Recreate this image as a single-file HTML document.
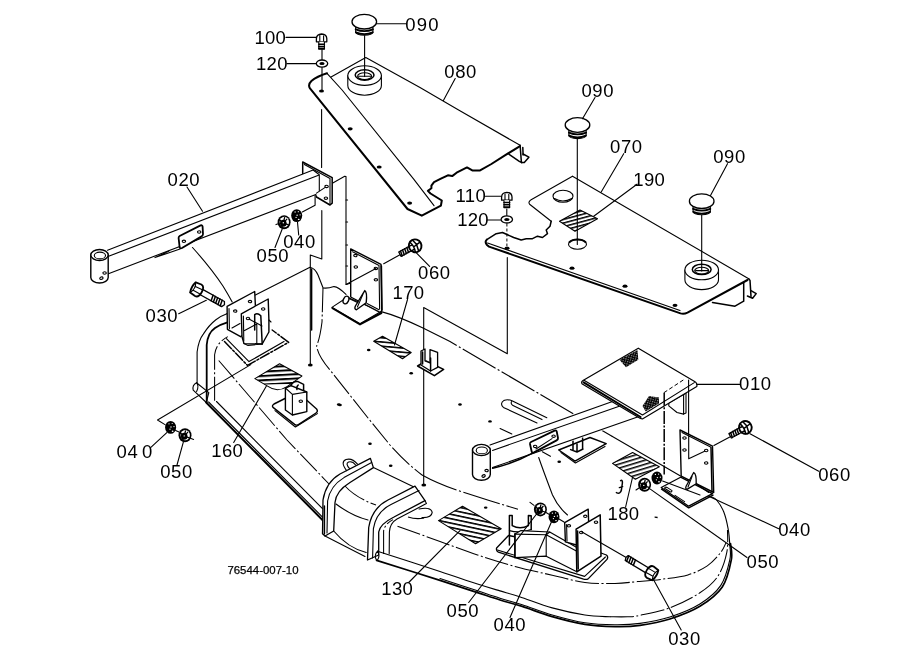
<!DOCTYPE html>
<html><head><meta charset="utf-8"><title>Mower deck parts diagram 76544-007-10</title>
<style>
html,body{margin:0;padding:0;background:#fff;}
body{width:919px;height:668px;overflow:hidden;font-family:"Liberation Sans",sans-serif;}
svg{display:block;position:absolute;left:0;top:0;}
.l{fill:none;stroke:#000;stroke-width:1.1;stroke-linecap:round;stroke-linejoin:round;}
.t{fill:none;stroke:#000;stroke-width:2;stroke-linecap:round;stroke-linejoin:round;}
.m{fill:none;stroke:#000;stroke-width:1.5;stroke-linecap:round;stroke-linejoin:round;}
.w{fill:#fff;stroke:#000;stroke-width:1.1;stroke-linejoin:round;}
.wt{fill:#fff;stroke:#000;stroke-width:1.8;stroke-linejoin:round;}
.k{fill:#000;stroke:none;}
.d{fill:none;stroke:#000;stroke-width:1.05;stroke-dasharray:24 2.5 2 2.5;}
.d2{fill:none;stroke:#000;stroke-width:1.1;stroke-dasharray:38 2.5 2 2.5;}
.ds{fill:none;stroke:#000;stroke-width:1;stroke-dasharray:3 2;}
.hx{fill:url(#h);stroke:#000;stroke-width:1;stroke-linejoin:round;}
text{font-family:"Liberation Sans",sans-serif;font-size:18.5px;fill:#000;letter-spacing:0.6px;}
text.o{letter-spacing:0.3px;}
text.s{font-size:11.8px;letter-spacing:0;stroke:#000;stroke-width:0.25px;}
</style></head>
<body>
<svg width="919" height="668" viewBox="0 0 919 668">
<defs>
<pattern id="h" width="6" height="4.2" patternUnits="userSpaceOnUse" patternTransform="rotate(5)"><rect width="6" height="1.6" fill="#000"/></pattern>
<pattern id="h2" width="6" height="4.3" patternUnits="userSpaceOnUse" patternTransform="rotate(-3) translate(0 1.2)"><rect width="6" height="2" fill="#000"/></pattern>
<pattern id="h130" width="6" height="4.3" patternUnits="userSpaceOnUse" patternTransform="rotate(12)"><rect width="6" height="1.6" fill="#000"/></pattern>
<pattern id="h180" width="6" height="3.9" patternUnits="userSpaceOnUse" patternTransform="rotate(-17)"><rect width="6" height="1.5" fill="#000"/></pattern>
<pattern id="h190" width="6" height="3.5" patternUnits="userSpaceOnUse" patternTransform="rotate(-15)"><rect width="6" height="1.5" fill="#000"/></pattern>
<pattern id="x" width="2.3" height="2.3" patternUnits="userSpaceOnUse" patternTransform="rotate(15)"><rect width="2.3" height="2.3" fill="#000"/><rect x="0.2" y="0.2" width="0.9" height="0.9" fill="#fff"/></pattern>
<g id="cap">
<path class="w" d="M-8.6 5 L-8.6 10.5 Q-8 13.4 0 13.6 Q8 13.4 8.6 10.5 L8.6 5 Z"/>
<path class="t" d="M-8.6 7.6 Q0 11.2 8.6 7.6 M-8.4 10.6 Q0 14.2 8.4 10.6" style="stroke-width:1.9"/>
<ellipse class="w" cx="0" cy="0" rx="12.3" ry="7.3" style="stroke-width:1.3"/>
</g>
<g id="ring">
<path class="w" d="M-16.8 0 L-16.8 9.8 A16.8 9.8 0 0 0 16.8 9.8 L16.8 0 Z"/>
<ellipse class="w" cx="0" cy="0" rx="16.8" ry="9.8"/>
<ellipse class="w" cx="0" cy="-0.6" rx="9.4" ry="5.2" style="stroke-width:1.5"/>
<ellipse class="l" cx="0" cy="0.6" rx="7" ry="3.4"/>
<path class="l" d="M-6 0.6 H6"/>
</g>
<g id="washer">
<ellipse class="w" cx="0" cy="0" rx="5.7" ry="3.6" style="stroke-width:1.3"/>
<ellipse class="k" cx="0" cy="0" rx="2.6" ry="1.5"/>
</g>
<g id="sbolt">
<path class="w" d="M-5.2 -3.2 Q-5 -7.6 0 -7.8 Q5 -7.6 5.2 -3.2 L5.2 0 L-5.2 0 Z" style="stroke-width:1.3"/>
<path class="l" d="M-1.8 0 V-6.4 M2 0 V-6"/>
<path class="w" d="M-2.8 0 V7.4 H2.8 V0" />
<path class="m" d="M-2.8 2.4 H2.8 M-2.8 4.6 H2.8 M-2.8 6.8 H2.8"/>
</g>
<g id="nut">
<ellipse cx="0" cy="0" rx="5.5" ry="6.4" fill="#000"/>
<circle cx="-1.6" cy="-3.6" r="0.65" fill="#fff"/><circle cx="1.6" cy="-3.9" r="0.6" fill="#fff"/><circle cx="3.4" cy="-0.8" r="0.65" fill="#fff"/>
<circle cx="0.4" cy="-0.4" r="0.7" fill="#fff"/><circle cx="-0.6" cy="1.8" r="0.65" fill="#fff"/><ellipse cx="2" cy="3.8" rx="0.9" ry="0.7" fill="#fff"/>
</g>
<g id="nut2">
<ellipse cx="0" cy="0" rx="6.5" ry="7" fill="#000"/>
<ellipse cx="0.2" cy="-0.2" rx="4.7" ry="5.2" fill="#fff"/>
<ellipse cx="-0.8" cy="1" rx="3.3" ry="3.5" fill="#000"/>
<path d="M-0.8 1 L-4.6 -2.4 M-0.8 1 L0.6 -5 M-0.8 1 L4.6 2.6 M-0.8 1 L-2.4 5.2 M-0.8 1 L3 -3.4" stroke="#000" stroke-width="1.3" fill="none"/>
<circle cx="-0.8" cy="0.6" r="0.7" fill="#fff"/>
</g>
<ellipse id="hole" class="k" cx="0" cy="0" rx="2.5" ry="1.6"/>
<ellipse id="sh" cx="0" cy="0" rx="1.7" ry="1.2" fill="#fff" stroke="#000" stroke-width="1.1"/><ellipse id="dh" cx="0" cy="0" rx="1.8" ry="1.2" fill="#000"/>
</defs>
<!-- plate 080 -->
<g id="p080">
<path class="l" d="M365.8 57.6 L420 87.5 L458.6 110 L520.1 145.3 M365.8 57.6 L330.6 77.2 M327 73.3 L342.1 90 L413.5 178.9 L434 205.7"/>
<path class="t" d="M327 73.3 Q317 76.4 311.4 81 Q307.6 84.6 310 88.4 L407.5 209 L421.8 215.7 L440.9 205.7 L441.8 200.5 L430.5 193.5 L427.9 190.9 L431.4 188.3 L431.4 185.7 L434 182.2 L440.9 178.7 L447.9 175.3 L452.2 176.1 L456.6 172.7 L467 167.4 L472.3 170.4 L480.1 170.4 L491.4 164 L505.3 155.2 L519.6 146.3"/>
<path class="m" d="M520.1 145.3 L521.4 162.4 M522.8 147.4 L523.1 155 M508 153.5 L519.3 161.3 L521.8 162.6"/>
<path class="m" d="M523 154 L528.9 157.2 L524.3 162.4 L521.6 162.6"/>
<use href="#hole" x="321.5" y="91"/><use href="#hole" x="350.2" y="128.8"/><use href="#hole" x="379.2" y="167"/><use href="#hole" x="409.6" y="203.1"/>
<use href="#ring" x="364.6" y="75.6"/>
<path class="l" d="M364.6 35 V76.5"/>
<use href="#cap" x="364.3" y="21.7"/>
<path class="l" d="M376.7 23.7 H406"/>
<!-- bolt 100 / washer 120 -->
<path class="l" d="M322 49 V90 M321.6 109.5 V167.5 M286 37.4 H316.4 M287 63.6 H316.2"/>
<use href="#washer" x="322" y="63.6"/>
<use href="#sbolt" x="321.6" y="41.8"/>
<path class="l" d="M455.2 78.6 L443.4 100.4"/>
</g>
<!-- plate 070 -->
<g id="p070">
<path class="l" d="M572.5 176.2 L748.7 278.7 M572.5 176.2 L532 199.2 Q527.6 201.6 529.6 204.2 L551.2 221.2"/>
<path class="m" d="M551.2 221.2 L550 226.2 L546.2 230 L547.5 233.7 L542.5 237.5 L537.5 236.2 L532.5 238.7 L526.2 238.7 L521.2 240 L513.7 237.5 L502.5 232.5 L496.2 233.7 L486.8 239.6"/>
<path class="t" d="M486.8 239.6 Q484.4 242 487 245 L489 246.6 L680.5 313.4 Q684 314.4 687.5 312.6 L747.5 280"/>
<path class="l" d="M487.6 243 L680 310.6"/>
<path class="m" d="M748.7 278.7 L750 280.4 L751 296.4 M743.7 282.5 V301.2 L735 306.2 L712.5 302.5"/>
<path class="m" d="M751 290.6 L756.2 293.6 L752.6 298.2 L747.4 296"/>
<use href="#hole" x="507" y="248.2"/><use href="#hole" x="572" y="268.2"/><use href="#hole" x="625" y="286.2"/><use href="#hole" x="675" y="305.3"/>
<ellipse class="l" cx="563" cy="196.2" rx="10" ry="6"/>
<path class="l" d="M554.4 198.6 Q563 203.4 571.8 198.4"/>
<path class="l" style="fill:url(#h190)" d="M580 210 L597.5 218.7 L575 231.2 L559.5 221.2 Z"/>
<ellipse class="w" cx="577.5" cy="244.3" rx="9" ry="5"/><path class="t" d="M569.6 242 A9 5 0 0 1 585.4 242"/>
<path class="l" d="M577.3 139 V244.5"/>
<use href="#cap" x="577.5" y="125"/>
<use href="#ring" x="701.7" y="270"/>
<path class="l" d="M701.7 215 V271"/>
<use href="#cap" x="701.7" y="201.2"/>
<!-- bolt 110 / washer 120 -->
<path class="l" d="M506.8 209 V216 M485.5 196.2 H501 M487 220 H500.5"/>
<path class="ds" d="M506.9 223.5 V246"/>
<use href="#washer" x="506.8" y="219.4"/>
<use href="#sbolt" x="506.8" y="200.2"/>
<!-- leaders -->
<path class="l" d="M595 97.5 L582.5 118.7 M623.7 153.7 L601.2 192 M637 184.2 L593.7 216.2 M727.5 163.7 L710.5 195.5"/>
<!-- guide lines -->
<path class="l" d="M507.3 257.5 V353.7 L423.7 307.5 V485"/>
<ellipse class="k" cx="423.8" cy="485" rx="2.4" ry="1.6"/>
</g>
<!-- arm 020 -->
<g id="a020">
<path class="l" d="M107.5 250.3 L313.1 170 L319.3 174.8 V190.4 M108.6 256.3 L318.5 175.3 M108.4 273.8 L315.8 194.4 L316.5 197"/>
<path class="w" d="M90.8 255 V277.5 A8.7 5.5 0 0 0 108.2 277.5 V255 Z" style="stroke-width:1.4"/>
<ellipse class="w" cx="99.5" cy="255" rx="8.7" ry="5.5" style="stroke-width:1.4"/>
<ellipse class="l" cx="99.9" cy="255.5" rx="5.6" ry="3.4"/>
<use href="#sh" x="104.6" y="273"/><use href="#sh" x="101.4" y="278.2" transform="rotate(-20 101.4 278.2)"/>
<!-- side bracket -->
<path class="wt" d="M179.6 236 L200.6 225.4 Q202.4 224.8 202.6 226.6 L203 234 Q203 235.6 201.6 236.4 L182 248 Q180 249 179.6 247 L178.6 238 Q178.6 236.6 179.6 236 Z"/>
<use href="#sh" x="183.9" y="241.3"/><use href="#sh" x="199.2" y="232"/>
<path class="l" d="M180 249 L155 257.6 L169 251"/>
<path class="l" d="M192.5 247.5 Q211 268 223.1 286.2 Q228.5 295 232.2 302"/>
<!-- end plate -->
<path class="m" d="M302.7 173.4 V162 L332.2 177.6 V203.2 L330 205 L316.5 197"/>
<path class="l" d="M304.4 164.6 L330 178.6 V204.6"/>
<use href="#sh" x="326.6" y="186.4"/><use href="#sh" x="325.9" y="198.2"/>
<path class="l" d="M302.3 212 L315.1 205.2 V195.3 M316.5 193.1 L325.2 187.4"/>
<!-- nuts -->
<use href="#nut" x="296.7" y="215.6"/>
<use href="#nut2" x="284.1" y="222.2"/>
<path class="l" d="M276 224.6 L279 223.4 M298.7 235 L297.5 222.2 M275 247.5 L282.2 229 M187 187 L202.5 211.2"/>
<!-- deck wall broken strip -->
<path class="l" d="M321.8 210.6 V259 L310.3 255 V365 M332.8 183 L344.7 176.3 L346 176.6 V284.5 L350.4 283.3"/>
<path class="l" d="M346 200 h1.6 M346 222 h1.6 M346 245 h1.6 M346 266 h1.6"/>
<path class="m" d="M311.6 269 V330"/>
<ellipse class="k" cx="310.3" cy="365" rx="2.4" ry="1.5"/>
</g>
<!-- bracket + bolt 060 left -->
<g id="b060l">
<path class="w" d="M331.9 307.4 L347.3 297.3 L381 311.6 L360 323.7 Z"/>
<path class="t" d="M332.5 308.2 L360 324.4 L381.4 313"/>
<path class="w" d="M350.7 248.9 L381 264.3 L381.7 310.8 L380 312.4 L350.7 297 Z" style="stroke-width:1.4"/>
<path class="l" d="M352.6 251.8 L379 265.4 L379.6 309"/>
<path class="m" d="M381.4 266 L382 310"/>
<use href="#sh" x="355.4" y="255.6"/><use href="#sh" x="355.8" y="267"/><use href="#sh" x="375.9" y="268.4"/><use href="#sh" x="375.9" y="279.8"/>
<path class="l" d="M375.9 268.4 L350.7 281.9 L346.2 284.5 M383.7 263.7 L400.4 254.6"/>
<path class="w" d="M364.8 290.6 Q367.4 292 366.2 302.7 L356.4 309.8 Q354 309 355.4 306 Z" style="stroke-width:1.4"/>
<path class="l" d="M362.8 294.6 L357.4 307"/>
<ellipse class="w" cx="346" cy="300" rx="2.6" ry="4" transform="rotate(25 346 300)" style="stroke-width:1.4"/>
<path class="l" d="M349 298.6 L358 302.8 M367 303.6 L379 309.8"/>
<!-- bolt -->
<g transform="translate(414.8 246) rotate(-29)">
<path class="w" d="M-17 -2.5 H-5 V2.5 H-17 Z" style="stroke-width:1.3"/>
<path class="m" d="M-15 -2.5 L-15.8 2.5 M-12.6 -2.5 L-13.4 2.5 M-10.2 -2.5 L-11 2.5 M-7.8 -2.5 L-8.6 2.5"/>
<ellipse class="wt" cx="0.4" cy="0" rx="6.3" ry="6.5" style="stroke-width:1.9"/>
<path class="m" d="M-2.4 -5.6 Q-0.4 0 -2.4 5.6 M-5.4 -2.6 L-1.6 -2.2 M-5.4 2.8 L-1.6 2.4 M-1.2 0.2 L6 -0.8 M1 -5.8 L2.4 -0.4 M2.2 0 L1 5.8"/>
</g>
<path class="l" d="M415.9 252.4 L429.6 266.4 M407.5 299.5 L394.5 345"/>
</g>
<!-- deck: left end, rear edge, front-left skirt -->
<g id="deckL">
<!-- rear top edge left part and curve into shelf -->
<path class="l" d="M227 313.8 L255.4 294.9 L310 267.3 Q315 268.4 318 275 L323.1 288 Q328 288.6 333.9 286.6 Q338 286.4 346 294.4"/>
<path class="d" d="M323 288 Q322.4 310 322 322 Q320 338 316.6 346 Q318 356 330 370 L349 394 L368 418 L390 445 Q405 462 422 475"/>
<path class="d2" d="M422 475 Q440 485 465 492.8 L490 500.7 L518 509.3"/>
<!-- left end rolled edge -->
<path class="l" d="M197.1 384.4 V352 Q198.6 340 203.3 334.1 Q209 325 215.9 319.7 Q221 316 227.4 313.6"/>
<path class="d" d="M214.6 400.8 V354.7 Q216 343 227.8 336.6"/>
<path class="w" d="M196.5 382.7 L208.8 392.6 L206.3 402.5 L193.2 390.1 Q192 385 196.5 382.7 Z"/>
<path class="l" d="M196.5 382.7 Q199.4 386 196.6 391.4"/>
<path class="t" d="M206.7 402.3 V345 Q207.6 333 215 328 Q220 324.6 227.4 322.4" style="stroke-width:1.8"/>
<!-- front-left skirt -->
<path class="t" d="M206.2 402.5 L323.7 521.2"/>
<path class="l" d="M208.6 402 L324 518.6 M216.5 401.5 L322.5 508.7"/>
<path class="d" d="M218.7 360.5 L287 440 L330 485"/>
<!-- leader to lower-left nuts -->
<path class="l" d="M250.8 364.6 L157.5 420 L165 424.6"/>
<use href="#nut" x="170.6" y="427.4"/>
<use href="#nut2" x="185" y="435.3"/>
<path class="l" d="M175.6 430.4 L179 432 M190.4 438.2 L193.6 439.4 M150.6 447.6 L166.8 432.6 M177 465 L183.4 441.8"/>
<!-- hatch 160 -->
<path d="M279.6 363.8 L301.9 376.1 L291 384 L265 384.6 L254.9 378.6 Z" fill="url(#h2)"/>
<path class="l" d="M279.6 363.8 L301.9 376.1 L287 386.6 Q277.2 393 268 386.4 L254.9 378.6 Z"/>
<path class="l" d="M266.4 386 L233.7 442.5"/>
<!-- small bracket near 160 -->
<path class="w" d="M273 407.4 Q271.6 405.6 274 404 L286 398 L306 399.6 L316.6 409 Q318.4 411.4 316 413 L298.4 424.6 Q296.6 425.8 294.6 424.4 Z" style="stroke-width:1.4"/>
<path class="l" d="M275 410.6 L295.4 427 L317.4 413.6"/>
<path class="w" d="M285.4 388 L291 385.6 L306.8 392 V411.6 L292.4 415 L285.4 410 Z" style="stroke-width:1.4"/>
<path class="l" d="M292.4 415 V394.4 L285.4 388 M292.4 394.4 L306.8 392"/>
<path class="m" d="M291 385.6 Q293 380.6 298 381.6 L303.6 384.4 V390.6 M298.2 385 Q296 387 297 389.6"/>
<use href="#sh" x="300.8" y="401.2"/>
<!-- misc small holes -->
<use href="#dh" x="338.7" y="404.5"/><use href="#dh" x="368.7" y="350"/><use href="#dh" x="411.2" y="373.2"/><use href="#dh" x="340" y="405"/><use href="#dh" x="460" y="404.5"/><use href="#dh" x="490" y="421.4"/>
<use href="#dh" x="370" y="443.7"/><use href="#dh" x="390.7" y="465.7"/><use href="#dh" x="485.7" y="507.6"/>
</g>
<!-- double bracket + bolt 030 left -->
<g id="b030l">
<!-- base plate outline -->
<path class="m" d="M224.5 341.5 L247.5 365.4 L288.7 342.3 L272.2 330" style="stroke-dasharray:10 2 2 2"/>
<path class="l" d="M226.4 338.6 L249 361.6 L284 341.6"/>
<!-- back plate -->
<path class="w" d="M227.1 306.4 L254.7 291.5 L255.4 305.7 L255.4 326 L240.6 336.7 L227.4 329.3 Z" style="stroke-width:1.4"/>
<path class="l" d="M229 308.6 L229.4 328.6"/>
<use href="#sh" x="235.2" y="311.1"/><use href="#sh" x="250" y="301.6"/>
<path class="l" d="M232 328 L240 323.6"/>
<!-- front plate + box -->
<path class="w" d="M241.3 313.8 L268.2 299 L268.9 319.8 L268.9 332 L262.2 344 L244 343.6 L242 336.7 Z" style="stroke-width:1.4"/>
<path class="l" d="M243.4 316 L243.8 341 M244.6 330.6 L256.8 323.9 M256.8 323.9 V343.6 M244 343.6 L248 345.4 L262.2 344"/>
<use href="#sh" x="248" y="318.5"/><use href="#sh" x="263.2" y="309"/>
<path class="m" d="M254.7 330 V314.6 Q257.6 312.6 260.8 315.8 L262.2 344"/>
<path class="l" d="M249 319 L262 326 M268.9 320 L271 322"/>
<!-- bolt 030 -->
<g transform="translate(196.8 289.5) rotate(29)">
<path class="w" d="M4 -2.9 H30 L31.6 0 L30 2.9 H4 Z" style="stroke-width:1.3"/>
<path class="m" d="M17 -2.9 L18 2.9 M19.6 -2.9 L20.6 2.9 M22.2 -2.9 L23.2 2.9 M24.8 -2.9 L25.8 2.9 M27.4 -2.9 L28.4 2.9"/>
<path class="wt" d="M-4.4 -5.8 Q-6.4 0 -4.4 5.8 L1.6 6.6 Q5.6 6.4 5.6 0 Q5.6 -6.4 1.6 -6.6 Z"/>
<path class="l" d="M-4.4 -5.8 Q-1 0 -4.4 5.8 M-2.8 -2 L5 -2.4 M-2.8 2.4 L5 2.4"/>
</g>
<path class="l" d="M178.7 313.7 L206.3 300.2"/>
</g>
<!-- deck mid: rear edge, hatch 170, small bracket, slot -->
<g id="deckM">
<path class="l" d="M381.2 311.6 Q398 316 423 328"/>
<path class="d2" d="M423 328 L450 341.6 L612 436.3"/>
<path d="M373.7 341.2 L382.5 336.2 L411.2 352.5 L402.5 358.7 Z" fill="url(#h)"/>
<path class="l" d="M373.7 341.2 L382.5 336.2 L411.2 352.5 L402.5 358.7 Z"/>
<!-- small bracket near 170 -->
<path class="w" d="M417.6 366 L426 361 L443.6 369.4 L434.4 375.6 Z" style="stroke-width:1.6"/>
<path class="w" d="M421 365 V351 L425 349 V361 L430 363 V349.6 L437.6 352.4 V367.4 L430.6 371 Z" style="stroke-width:1.3"/>
<path class="m" d="M422.6 352 V364 M430.6 371 V358"/>
<use href="#dh" x="559.2" y="461.8"/>
<!-- slot -->
<path class="l" d="M504 400.4 Q499.4 403.6 503.4 407.4 L537 423 M504 400.4 Q508 399 512 400.8 L546.8 417.7 M512 400.8 Q510 403.4 513 405.6 L542 419.6 M500.1 428.5 L511.8 433.9 M542.3 451.8 L550.4 456.3"/>
</g>
<!-- chute arches + bottom skirt -->
<g id="chute">
<!-- deck left skirt lower lines into left arch -->
<!-- left arch -->
<path class="w" d="M322.5 533.7 L323 500 Q326 482 340 474 L370.4 458.4 L373.4 467.6 L350 482.5 Q336 491 335 502.5 L333.7 531 L325 536 Z" style="stroke-width:1.3"/>
<path class="m" d="M324.4 506 V534"/>
<path class="l" d="M327 533 L327.6 501 Q330 486 344 477.6 L371.6 462.6"/>
<!-- loop on left arch -->
<path class="l" d="M346.6 470.6 Q340 462 346 459.6 Q352 457.6 357.5 464.2 M349.6 468.6 Q345 463.6 348.6 462 Q352.6 461 355.6 465"/>
<!-- chute top surface -->
<path class="l" d="M373.4 467.6 L415 487.5 M336 504 Q352 516 368 520 M333.7 531 Q348 548 366.2 552.5 M325 536 L365 556.4"/>
<path class="d" d="M345 486 Q356 498 376 505"/>
<!-- right arch -->
<path class="w" d="M367.5 560 L368.7 527.5 Q372 508 388 500 L415 486.2 L425 500.6 L394 517 Q380 524 378.7 532 L378.7 555 Z" style="stroke-width:1.3"/>
<path class="l" d="M372.6 558 L373.4 528.6 Q376 512 391 504.6 L419 490.6 M425 500.6 L426.4 503.6 L397 519 Q390 523 389.4 532 L389.2 553.6"/>
<path class="d" d="M383.6 554 V531 Q385 523.6 393 519.6"/>
<!-- loop near arch -->
<path class="l" d="M419 509 Q431 506.6 432.2 512.4 Q431.6 518 422 517.6"/>
<path class="d" d="M408 517 Q416 519.6 424 518"/>
<!-- rod / bottom skirt -->
<path class="l" d="M377.5 551.2 C387.9 554.6 423.3 566.0 440.0 571.5 C456.7 577.0 467.5 580.8 477.5 584.0 C487.5 587.2 493.0 588.8 500.0 590.9 C507.0 593.0 510.9 594.0 519.6 596.8 C528.3 599.6 541.3 604.9 552.2 607.9 C563.1 610.9 575.3 613.5 584.9 615.0 C594.5 616.5 605.8 616.5 610.0 616.8"/>
<path class="d" d="M610.0 616.8 C612.9 616.8 622.5 617.0 627.5 616.8 C632.5 616.5 632.9 616.8 640.0 615.3 C647.1 613.8 659.9 611.5 669.9 607.8 C679.9 604.0 691.9 598.0 699.9 592.8 C707.9 587.6 713.3 583.1 717.8 576.4 C722.3 569.7 725.2 560.1 726.8 552.4 C728.4 544.7 727.4 533.7 727.5 530.0"/>
<path class="l" d="M440.0 578.6 C446.2 580.6 467.5 587.5 477.5 590.8 C487.5 594.1 492.6 595.9 500.0 598.2 C507.4 600.5 513.5 601.9 522.2 604.7 C530.9 607.5 541.8 612.0 552.2 615.0 C562.7 618.0 574.4 621.2 584.9 622.8 C595.4 624.4 605.8 624.7 615.0 624.8 C624.2 624.9 630.9 624.7 640.0 623.4 C649.1 622.1 659.9 620.2 669.9 617.0 C679.9 613.8 691.4 609.3 699.9 604.0 C708.4 598.7 715.8 592.8 720.8 585.4 C725.8 578.0 728.3 566.6 729.8 559.9 C731.3 553.2 730.1 550.2 729.8 545.0 C729.5 539.8 729.1 534.2 728.1 528.7 C727.1 523.2 725.7 516.8 723.8 512.0 C721.9 507.2 718.7 502.5 716.6 500.0 C714.5 497.5 712.3 497.5 711.4 497.0"/>
<path class="t" d="M376.6 560.4 C387.2 563.7 423.2 575.0 440.0 580.4 C456.8 585.8 467.5 589.3 477.5 592.6 C487.5 595.9 492.6 597.7 500.0 600.0 C507.4 602.3 513.5 603.6 522.2 606.4 C530.9 609.2 541.8 613.6 552.2 616.6 C562.7 619.6 574.4 622.7 584.9 624.4 C595.4 626.1 605.8 626.4 615.0 626.6 C624.2 626.8 630.9 626.7 640.0 625.4 C649.1 624.1 659.9 622.2 669.9 619.0 C679.9 615.8 691.2 611.6 699.9 606.3 C708.6 600.9 717.1 594.6 722.3 586.9 C727.5 579.2 729.9 567.1 731.3 559.9 C732.7 552.7 730.6 546.2 730.5 543.5" style="stroke-width:1.7"/>
<path class="l" d="M377.5 551.2 Q380.4 555.6 377.4 560.2 M377.5 551.2 Q373.6 555.4 376.6 560.4"/>
<path class="d" d="M397.5 526.2 C404.6 528.8 426.7 536.7 440.0 541.5 C453.3 546.3 465.0 550.8 477.5 555.0 C490.0 559.2 502.6 563.1 515.0 566.5 C527.5 569.9 540.6 572.6 552.2 575.2 C563.9 577.9 574.4 581.0 584.9 582.4 C595.4 583.8 606.2 583.5 615.0 583.4 C623.8 583.3 629.5 582.3 637.5 581.6 C645.5 580.9 654.8 580.2 663.2 579.1 C671.6 578.0 680.5 577.1 687.9 574.9 C695.2 572.7 701.8 569.6 707.3 565.9 C712.8 562.1 717.7 556.3 720.8 552.4 C723.9 548.5 725.1 544.3 726.0 542.7"/>
<!-- hatch 130 -->
<path d="M462.5 506.2 L501.2 528.7 L475.6 543.7 L438.5 520.6 Z" fill="url(#h130)"/>
<path class="l" d="M462.5 506.2 L501.2 528.7 L475.6 543.7 L438.5 520.6 Z"/>
<path class="l" d="M460 530.6 L408.7 582.5"/>
</g>
<!-- deck right end -->
<g id="deckR">
<path class="k" d="M654.6 516.4 l3 0.4 l0 1.4 l-3 -0.4 z"/>
</g>
<!-- arm 010 + platform -->
<g id="a010">
<!-- small plate with U under arm -->
<path class="w" d="M558.7 450 L590 437.5 L606.2 443.7 L575 461.2 Z" style="stroke-width:1.4"/>
<path class="l" d="M561 452.6 L575.4 463 L605 446.4"/>
<path class="m" d="M570.6 449.6 L577 452 L583 449 M573 441 V450.6 M577 444 V452 M582.6 438 V449"/>
<!-- arm -->
<path class="w" d="M490 445 L612.5 401 L620 405.6 L641 417.4 L492.5 467.8 Z" style="stroke:none"/>
<path class="l" d="M490 445 L612.5 401.4 M492.5 450.4 L620 406 M492.5 467.6 L637.5 417"/>
<path class="m" d="M492.6 468.2 Q515 463 532 453.4"/>
<!-- tube -->
<path class="w" d="M472.5 450 V474.6 A8.9 5.6 0 0 0 490.3 474.6 V450 Z" style="stroke-width:1.4"/>
<ellipse class="w" cx="481.4" cy="450" rx="8.9" ry="5.6" style="stroke-width:1.4"/>
<ellipse class="l" cx="481.8" cy="450.4" rx="5.6" ry="3.4"/>
<use href="#sh" x="486.6" y="470.6"/><use href="#sh" x="483.6" y="476" transform="rotate(-20 483.6 476)"/>
<!-- side bracket -->
<path class="wt" d="M531 442 L554.6 430.6 Q556.4 430 556.8 431.8 L558 438 Q558.2 439.6 556.6 440.4 L534 452.4 Q532 453.2 531.6 451.2 L530 444 Q529.8 442.6 531 442 Z"/>
<use href="#sh" x="535.2" y="446.4"/><use href="#sh" x="553.6" y="436.2"/>
<path class="l" d="M538.7 457.5 Q543 470 552.5 495 Q558 507 567.5 515"/>
<path class="l" d="M536 449 L552 438.6"/>
<!-- support under platform -->
<path class="w" d="M668.8 405.9 L677 412.5 L683.6 414.1 L686 413 V393 L668.8 403 Z"/>
<path class="l" d="M683.6 394.3 V414.1"/>
<!-- platform -->
<path class="w" d="M638.3 348.2 L694.6 381.6 Q697.6 383.4 696.8 386.6 L642.4 419 L640.4 418.4 L582.3 384 Q580.6 382 583 380.4 Z" style="stroke-width:1.2"/>
<path class="t" d="M583.6 382.4 L640.6 417"/>
<path class="l" d="M584 380.3 L642.5 415 L694.3 382.6"/>
<path d="M619.4 359.8 L637.5 350 L638.3 359.8 L626 367.2 Z" fill="url(#x)"/>
<path d="M642.5 405.9 L649 396 L659 397.6 L659 403.4 L645.7 411.6 Z" fill="url(#x)"/>
<path class="ds" d="M663.9 392.7 L683.6 379.8" style="stroke-dasharray:4 2.4"/>
<path class="m" d="M664.2 392.7 V474.6" style="stroke-dasharray:13 1.6 2 1.6;stroke-linecap:butt"/>
<path class="l" d="M688.6 380 V435 M696.8 384.4 H739.5"/>
</g>
<!-- bracket + bolt 060 right, nuts -->
<g id="b060r">
<path class="l" d="M612 436.3 L680.5 475.9"/>
<!-- hatch 180 -->
<path d="M612.5 463.4 L632.6 452.5 L659.3 466.7 L635.4 479.2 Z" fill="url(#h180)"/>
<path class="l" d="M612.5 463.4 L632.6 452.5 L659.3 466.7 L635.4 479.2 Z"/>
<path class="l" d="M632.6 477 L625.6 507"/>
<path class="m" d="M620.6 480.6 Q622.6 479.6 622.4 483 L621.4 490 Q620.4 494.6 616.4 492.6 M619.4 487.6 L622.6 486.6"/>
<!-- foot -->
<path class="w" d="M661.2 487.5 L680.6 477.2 L712.5 493.7 L688.7 506.2 Z" style="stroke-width:1.3"/>
<path class="m" d="M661.6 489.2 L688.7 507.8 L713 495.2"/>
<path class="l" d="M664.6 488.2 L670 491.8 M664.6 488.2 Q665 486.6 667 487.4 L672 490.6 Q672 492.4 670 491.8 M675 495.4 L684.6 501.6"/>
<!-- vertical plate -->
<path class="w" d="M680 430 L712.5 446.2 L713.7 492.5 L681.2 476.2 Z" style="stroke-width:1.4"/>
<path class="m" d="M711 447.4 L712 491.6"/>
<path class="l" d="M682 432.6 L710.6 447 M688.7 435.6 V458.7 L706.2 450.5"/>
<use href="#sh" x="684.5" y="438"/><use href="#sh" x="684.5" y="450"/><use href="#sh" x="706.2" y="450.5"/><use href="#sh" x="706.2" y="463"/>
<path class="w" d="M693.7 472.5 Q696.6 474 696.2 483.7 L687 489.4 Q685 488.8 686.2 486 Z" style="stroke-width:1.3"/>
<path class="l" d="M692 476.6 L688 487 M696.6 484 L708.7 492.5"/>
<!-- nuts -->
<use href="#nut" x="657" y="478"/>
<use href="#nut2" x="644.6" y="484.8"/>
<path class="l" d="M649.6 488.6 L747 557.5 M662.6 481 L700 495 M708.7 496.2 L778.7 528.7 M639 488 L636 490"/>
<!-- bolt -->
<g transform="translate(745 427.6) rotate(-29)">
<path class="w" d="M-17 -2.5 H-5 V2.5 H-17 Z" style="stroke-width:1.3"/>
<path class="m" d="M-15 -2.5 L-15.8 2.5 M-12.6 -2.5 L-13.4 2.5 M-10.2 -2.5 L-11 2.5 M-7.8 -2.5 L-8.6 2.5"/>
<ellipse class="wt" cx="0.4" cy="0" rx="6.3" ry="6.5" style="stroke-width:1.9"/>
<path class="m" d="M-2.4 -5.6 Q-0.4 0 -2.4 5.6 M-5.4 -2.6 L-1.6 -2.2 M-5.4 2.8 L-1.6 2.4 M-1.2 0.2 L6 -0.8 M1 -5.8 L2.4 -0.4 M2.2 0 L1 5.8"/>
</g>
<path class="l" d="M731.2 436.2 L713.9 445.5 M750 433.7 L818.7 471.2"/>
</g>
<!-- front-right bracket + bolt 030 right -->
<g id="b030r">
<!-- base plate -->
<path class="w" d="M496.6 548 L508.5 535.5 L601 553 L606.4 555 Q608.6 556.8 607 559.4 L588.6 578.4 Q586.6 580 583.6 579.2 L498.4 552.2 Q495.8 550.6 496.6 548 Z" style="stroke-width:1.3"/>
<path class="l" d="M497.4 550 L584.6 576.4 L605.4 557"/>
<!-- U bracket left -->
<path class="m" d="M509.4 515.6 V545 M512.2 515.6 V525.6 Q520 530 528.4 525.6 V515.6 M531.2 515.8 V529.4 M509.4 515.6 H512.2 M528.4 515.6 L531.2 515.8"/>
<path class="l" d="M509.4 530.6 Q520 533.6 531.2 529.4"/>
<!-- box -->
<path class="w" d="M514.9 534.1 L521 530.6 L549.7 532 L576.8 547.6 V571.8 L546.2 556.2 L514.9 557.6 Z" style="stroke-width:1.2"/>
<path class="m" d="M514.9 534.1 V557.6"/>
<path class="l" d="M514.9 534.1 L546.2 534.8 L576.8 551.2 M546.2 534.8 V556.2 M549.7 532 L546.2 534.8"/>
<!-- back plate -->
<path class="w" d="M564.7 522.7 L588.2 509.2 L588.9 530 L576.4 545 L565.4 541.9 Z" style="stroke-width:1.4"/>
<path class="l" d="M566.6 524.6 L567 541"/>
<use href="#sh" x="568.9" y="525.8"/><use href="#sh" x="585.3" y="516.3"/>
<!-- front plate -->
<path class="w" d="M576.1 529.1 L600.2 514.9 L601 556.2 L576.8 571.8 Z" style="stroke-width:1.5"/>
<path class="m" d="M577.6 531 L578.2 569"/>
<use href="#sh" x="581.2" y="532.5"/><use href="#sh" x="596" y="522.2"/>
<path class="l" d="M581.2 531.4 L626.2 557.5"/>
<!-- nuts -->
<use href="#nut2" x="540.4" y="509.4"/>
<use href="#nut" x="554" y="516.8"/>
<path class="l" d="M468.7 602.5 L536.2 514.5 M510 617.5 L552.5 519.5 M530 502.4 L534 505.4 M546 512.6 L549.4 514.4 M559 519 L564 522"/>
<!-- bolt -->
<g transform="translate(651.6 573) rotate(211)">
<path class="w" d="M4 -2.9 H29 L30 0 L29 2.9 H4 Z" style="stroke-width:1.3"/>
<path class="m" d="M19.6 -2.9 L20.6 2.9 M22.2 -2.9 L23.2 2.9 M24.8 -2.9 L25.8 2.9 M27.4 -2.9 L28.4 2.9"/>
<path class="wt" d="M-4.4 -5.8 Q-6.4 0 -4.4 5.8 L1.6 6.6 Q5.6 6.4 5.6 0 Q5.6 -6.4 1.6 -6.6 Z"/>
<path class="l" d="M-4.4 -5.8 Q-1 0 -4.4 5.8 M-2.8 -2 L5 -2.4 M-2.8 2.4 L5 2.4"/>
</g>
<path class="l" d="M653.7 580 L681.2 630"/>
</g>
<!-- labels -->
<g id="labels" style="filter:grayscale(1)">
<text class="o" x="254.4" y="44.3">100</text>
<text class="o" x="256.0" y="70.2">120</text>
<text x="405.3" y="30.5" style="letter-spacing:1.2px">090</text>
<text x="444.3" y="78">080</text>
<text x="581.4" y="97.0">090</text>
<text x="610.1" y="153.2">070</text>
<text class="o" x="633.3" y="185.9">190</text>
<text x="713.2" y="163.2">090</text>
<text class="o" x="455.6" y="202.4">110</text>
<text class="o" x="457.2" y="226.4">120</text>
<text x="167.6" y="185.7">020</text>
<text x="256.6" y="262.0">050</text>
<text x="283.2" y="248.2">040</text>
<text x="418" y="279.3">060</text>
<text class="o" x="392.6" y="299.4">170</text>
<text x="145.6" y="322.0">030</text>
<text x="116.5 127.5 141.9" y="457.7">040</text>
<text x="160.2" y="477.6">050</text>
<text class="o" x="211.3" y="456.5">160</text>
<text class="o" x="381.3" y="594.7">130</text>
<text x="446.6" y="617.0">050</text>
<text x="493.6" y="630.7">040</text>
<text class="o" x="607.6" y="519.7">180</text>
<text x="739.1" y="389.9">010</text>
<text x="818.2" y="480.7">060</text>
<text x="778.2" y="536.3">040</text>
<text x="746.6" y="568.1">050</text>
<text x="668.2" y="644.5">030</text>
<text class="s" x="227.4" y="573.5" textLength="71.2" lengthAdjust="spacingAndGlyphs">76544-007-10</text>
</g>
</svg>
</body></html>
